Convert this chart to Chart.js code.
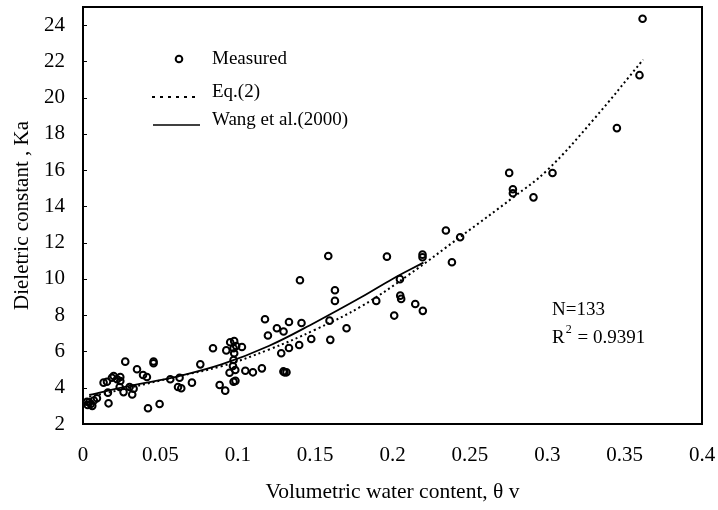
<!DOCTYPE html>
<html>
<head>
<meta charset="utf-8">
<script src="https://cdn.jsdelivr.net/npm/chart.js@4.4.1/dist/chart.umd.min.js"></script>
<style>
    html, body { margin: 0; padding: 0; background: #fff; }
</style>
</head>
<body>
<canvas id="grafica" width="718" height="510"></canvas>
<script>
// Measured points (theta v, Ka)
const medidoX = [
    0.0026, 0.003, 0.004, 0.005, 0.006, 0.007, 0.009, 0.0165, 0.0161,
    0.0133, 0.0155, 0.0187, 0.0198, 0.022, 0.0241, 0.0241, 0.0273, 0.0237, 0.0262,
    0.0301, 0.0318, 0.0327, 0.0349, 0.0388, 0.0413, 0.042, 0.0456, 0.0456, 0.0495,
    0.0564, 0.0614, 0.0635, 0.0704, 0.0624, 0.0758, 0.084, 0.0883, 0.0919,
    0.0926, 0.0951, 0.0977, 0.099, 0.0973, 0.1027, 0.0977, 0.0973, 0.0969, 0.0984,
    0.0947, 0.0973, 0.0985, 0.1049, 0.1098, 0.1156, 0.1302, 0.1315, 0.1295,
    0.1176, 0.1331, 0.1412, 0.1593, 0.1703, 0.1253, 0.1296, 0.1195, 0.1475, 0.1598,
    0.1397, 0.1331, 0.1281, 0.1585, 0.1402, 0.1628, 0.1628, 0.1895,
    0.1964, 0.2194, 0.2194, 0.2048, 0.205, 0.2056, 0.2147, 0.2196, 0.2011,
    0.2345, 0.2437, 0.2384, 0.2754, 0.2778, 0.2778, 0.2911, 0.3034,
    0.345, 0.3596, 0.3616
];
const medidoY = [
    3.23, 3.05, 3.2, 3.1, 3.0, 3.3, 3.42, 3.14, 3.73,
    4.28, 4.33, 4.55, 4.65, 4.47, 4.59, 4.37, 5.44, 4.04, 3.76,
    4.04, 3.63, 3.95, 5.02, 4.7, 4.59, 2.87, 5.35, 5.45, 3.1,
    4.47, 4.04, 3.97, 4.28, 4.55, 5.29, 6.18, 4.15, 3.84,
    6.06, 6.51, 6.57, 6.3, 6.18, 6.25, 5.9, 5.53, 5.2, 4.98,
    4.83, 4.33, 4.38, 4.94, 4.85, 5.07, 4.85, 4.85, 4.9,
    7.78, 7.63, 7.57, 7.7, 7.28, 7.28, 7.1, 6.88, 6.69, 6.64,
    6.36, 6.19, 5.9, 11.27, 9.93, 9.38, 8.79, 8.79,
    11.23, 11.34, 11.2, 9.99, 9.08, 8.9, 8.62, 8.24, 7.98,
    12.67, 12.3, 10.92, 15.85, 14.95, 14.73, 14.5, 15.84,
    18.32, 21.24, 24.35
];

// Eq.(2) curve
const ecuacionX = [0.004, 0.03, 0.06, 0.09, 0.12, 0.15, 0.18, 0.21, 0.245, 0.278, 0.30, 0.33, 0.362];
const ecuacionY = [3.5, 4.0, 4.6, 5.2, 6.1, 7.2, 8.5, 10.2, 12.4, 14.5, 16.0, 18.8, 22.1];

// Wang et al.(2000)
const wangX = [0.004, 0.03, 0.06, 0.09, 0.12, 0.15, 0.18, 0.20, 0.22];
const wangY = [3.6, 4.1, 4.6, 5.3, 6.3, 7.6, 9.0, 10.0, 10.9];

const ticksX = [0, 0.05, 0.1, 0.15, 0.2, 0.25, 0.3, 0.35, 0.4];
const ticksY = [2, 4, 6, 8, 10, 12, 14, 16, 18, 20, 22, 24];

const fuente = "'Liberation Serif', 'Times New Roman', serif";

function puntos(xs, ys) {
    return xs.map((x, i) => ({ x: x, y: ys[i] }));
}

// Frame, inner ticks, legend and annotation
const decoracion = {
    id: 'decoracion',
    afterDraw(chart) {
        const ctx = chart.ctx;
        const a = chart.chartArea;
        const ys = chart.scales.y;
        ctx.save();
        ctx.strokeStyle = '#000';
        ctx.lineWidth = 2;
        ctx.strokeRect(a.left, a.top, a.right - a.left, a.bottom - a.top);

        ctx.lineWidth = 1;
        ticksY.forEach(v => {
            const py = Math.round(ys.getPixelForValue(v)) + 0.5;
            ctx.beginPath();
            ctx.moveTo(a.left, py);
            ctx.lineTo(a.left + 4, py);
            ctx.stroke();
        });

        // legend
        ctx.fillStyle = '#000';
        ctx.font = '19px ' + fuente;
        ctx.textBaseline = 'middle';
        ctx.textAlign = 'left';

        ctx.lineWidth = 2;
        ctx.beginPath();
        ctx.arc(179, 59, 3.3, 0, Math.PI * 2);
        ctx.stroke();
        ctx.fillText('Measured', 212, 59);

        ctx.setLineDash([3, 5]);
        ctx.beginPath();
        ctx.moveTo(152, 97);
        ctx.lineTo(199, 97);
        ctx.stroke();
        ctx.setLineDash([]);
        ctx.fillText('Eq.(2)', 212, 92);

        ctx.lineWidth = 1.6;
        ctx.beginPath();
        ctx.moveTo(153, 125);
        ctx.lineTo(200, 125);
        ctx.stroke();
        ctx.fillText('Wang et al.(2000)', 212, 120);

        // N and R2
        ctx.fillText('N=133', 552, 310);
        ctx.fillText('R', 552, 338);
        const wR = ctx.measureText('R').width;
        ctx.font = '12px ' + fuente;
        ctx.fillText('2', 552 + wR + 1, 330);
        const w2 = ctx.measureText('2').width;
        ctx.font = '19px ' + fuente;
        ctx.fillText(' = 0.9391', 552 + wR + w2 + 2, 338);
        ctx.restore();
    }
};

new Chart(document.getElementById('grafica'), {
    type: 'scatter',
    data: {
        datasets: [
            {
                label: 'Measured',
                data: puntos(medidoX, medidoY),
                pointStyle: 'circle',
                pointRadius: 3.3,
                pointBorderWidth: 2,
                pointBorderColor: '#000',
                pointBackgroundColor: 'rgba(0,0,0,0)',
                showLine: false
            },
            {
                label: 'Eq.(2)',
                data: puntos(ecuacionX, ecuacionY),
                showLine: true,
                borderColor: '#000',
                borderWidth: 2,
                borderDash: [2, 3],
                tension: 0.4,
                pointRadius: 0
            },
            {
                label: 'Wang et al.(2000)',
                data: puntos(wangX, wangY),
                showLine: true,
                borderColor: '#000',
                borderWidth: 1.8,
                tension: 0.4,
                pointRadius: 0
            }
        ]
    },
    options: {
        responsive: false,
        animation: false,
        layout: { padding: { top: 7, right: 16, left: 0, bottom: 0 } },
        plugins: {
            legend: { display: false },
            tooltip: { enabled: false }
        },
        scales: {
            x: {
                type: 'linear',
                min: 0,
                max: 0.4,
                afterFit: s => { s.height = 86; s.paddingLeft = 0; s.paddingRight = 0; },
                afterBuildTicks: s => { s.ticks = ticksX.map(v => ({ value: v })); },
                grid: { display: false, drawTicks: false },
                border: { display: false },
                ticks: {
                    color: '#000',
                    padding: 19,
                    maxRotation: 0,
                    font: { family: fuente, size: 21 },
                    callback: v => String(v)
                },
                title: {
                    display: true,
                    text: 'Volumetric water content, θ v',
                    color: '#000',
                    font: { family: fuente, size: 21.5 },
                    padding: { top: 0, bottom: 5 }
                }
            },
            y: {
                type: 'linear',
                min: 2,
                max: 25,
                afterFit: s => { s.width = 83; s.paddingTop = 0; s.paddingBottom = 0; },
                afterBuildTicks: s => { s.ticks = ticksY.map(v => ({ value: v })); },
                grid: { display: false, drawTicks: false },
                border: { display: false },
                ticks: {
                    color: '#000',
                    padding: 18,
                    font: { family: fuente, size: 21 },
                    callback: v => String(v)
                },
                title: {
                    display: true,
                    text: 'Dieletric constant , Ka',
                    color: '#000',
                    font: { family: fuente, size: 21 },
                    padding: { top: 10, bottom: 0 }
                }
            }
        }
    },
    plugins: [decoracion]
});
</script>
</body>
</html>
